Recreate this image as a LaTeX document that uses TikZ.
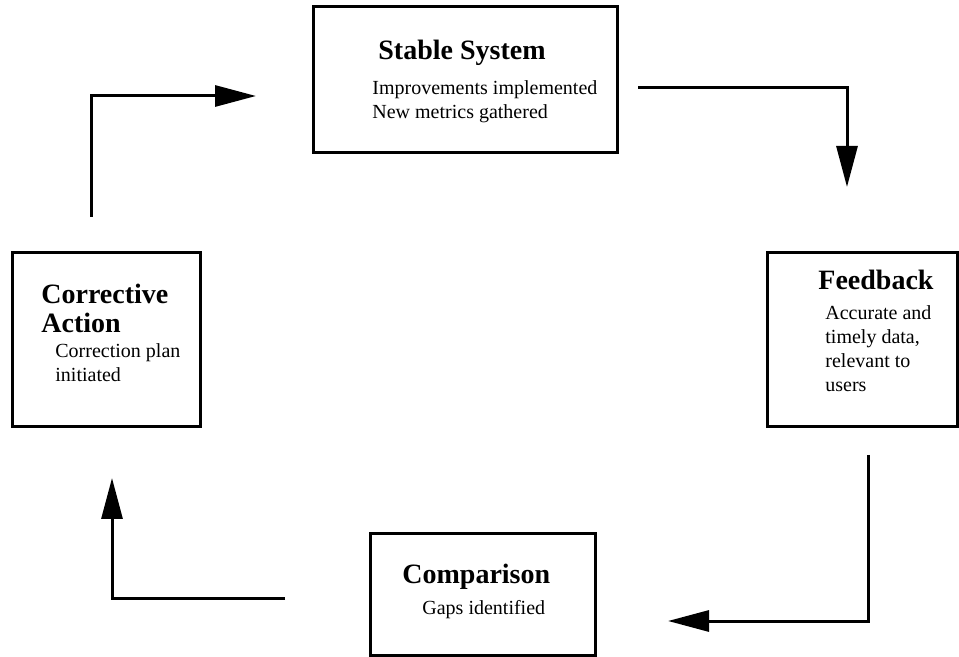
\documentclass[tikz,border=0pt]{standalone}
\usepackage{fontspec}
\setmainfont{Liberation Serif}
\usetikzlibrary{arrows.meta}
\tikzstyle{stage box}=[draw, line width=1.5pt, inner sep=0pt]
\tikzstyle{stage title}=[inner sep=0pt, anchor=base west, font=\fontsize{14}{14.5}\selectfont\bfseries, align=left]
\tikzstyle{stage note}=[inner sep=0pt, anchor=north west, font=\fontsize{10}{12}\selectfont, align=left]
\tikzstyle{flow}=[line width=1.5pt, -{Triangle[length=20.5pt, width=10.5pt]}]

\begin{document}
\begin{tikzpicture}[x=0.5pt, y=-0.5pt]
  \useasboundingbox (0, 0) rectangle (959, 657);
  % the four stages
  \node[stage box, minimum width=152pt, minimum height=73pt] (stable) at (465, 80) {};
  \node[stage box, minimum width=95pt, minimum height=87pt] (feedback) at (862, 340) {};
  \node[stage box, minimum width=112.5pt, minimum height=60.5pt] (comparison) at (482.5, 594.5) {};
  \node[stage box, minimum width=94pt, minimum height=87pt] (corrective) at (106, 340) {};

  \node[stage title] (stable title) at (378, 60) {Stable System};
  \node[stage note] (stable note) at (372, 80) {Improvements implemented\\New metrics gathered};
  \node[stage title] (feedback title) at (818, 290) {Feedback};
  \node[stage note] (feedback note) at (825, 305) {Accurate and\\timely data,\\relevant to\\users};
  \node[stage title] (comparison title) at (402, 583) {Comparison};
  \node[stage note] (comparison note) at (422, 600) {Gaps identified};
  \node[stage title] (corrective title) at (41, 333) {Corrective\\Action};
  \node[stage note] (corrective note) at (55, 343) {Correction plan\\initiated};

  % loose ends of the arrows
  \coordinate (stable out) at (638, 88);
  \coordinate (feedback in) at (847, 187);
  \coordinate (feedback out) at (868, 455);
  \coordinate (comparison in) at (668, 621);
  \coordinate (comparison out) at (285, 599);
  \coordinate (corrective in) at (112, 478);
  \coordinate (corrective out) at (91, 217);
  \coordinate (stable in) at (256, 96);

  \draw[flow] (stable out) -| (feedback in);
  \draw[flow] (feedback out) |- (comparison in);
  \draw[flow] (comparison out) -| (corrective in);
  \draw[flow] (corrective out) |- (stable in);
\end{tikzpicture}
\end{document}
